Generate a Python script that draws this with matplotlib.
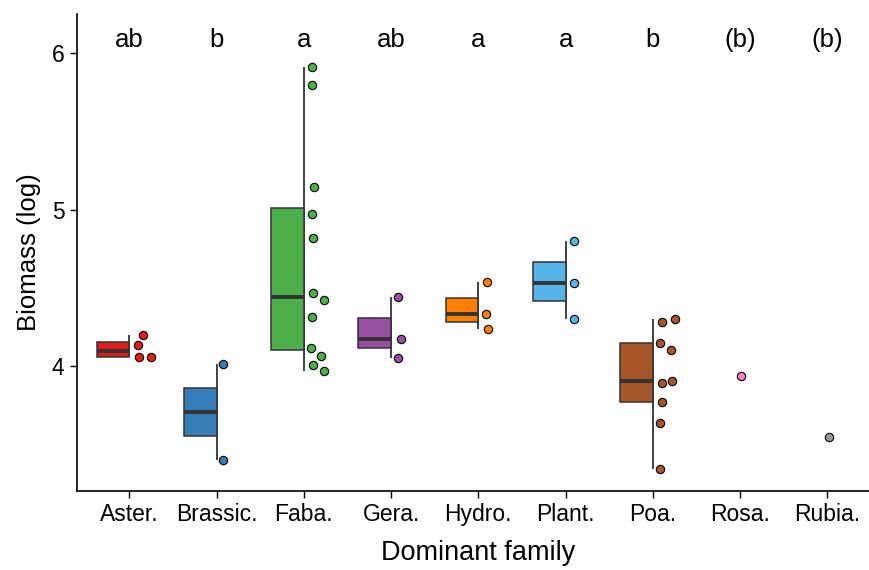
import matplotlib
matplotlib.use("Agg")
import matplotlib.pyplot as plt
import numpy as np

plt.rcParams['font.family'] = ['Liberation Sans', 'DejaVu Sans']

families = ['Aster.', 'Brassic.', 'Faba.', 'Gera.', 'Hydro.', 'Plant.', 'Poa.', 'Rosa.', 'Rubia.']
letters = ['ab', 'b', 'a', 'ab', 'a', 'a', 'b', '(b)', '(b)']
colors = ['#E41A1C', '#377EB8', '#4DAF4A', '#984EA3', '#FF7F00',
          '#56B4E9', '#A65628', '#F781BF', '#999999']

# biomass (log) per family
aster = [4.198, 4.133, 4.056, 4.056]
brassic = [4.011, 3.394]
faba = [5.910, 5.799, 5.142, 4.969, 4.816, 4.465, 4.421, 4.310, 4.113, 4.062, 4.006, 3.968]
gera = [4.442, 4.171, 4.051]
hydro = [4.538, 4.329, 4.235]
plant = [4.800, 4.531, 4.301]
poa = [4.278, 4.299, 4.143, 4.100, 3.889, 3.900, 3.766, 3.635, 3.337]
rosa = [3.936]
rubia = [3.542]
values = [aster, brassic, faba, gera, hydro, plant, poa, rosa, rubia]

# horizontal jitter of the points (category units, to the right of centre)
jitter = [
    [0.152, 0.103, 0.107, 0.244],
    [0.075, 0.075],
    [0.096, 0.096, 0.119, 0.092, 0.103, 0.103, 0.229, 0.088, 0.085, 0.191, 0.108, 0.226],
    [0.080, 0.115, 0.080],
    [0.100, 0.092, 0.107],
    [0.092, 0.092, 0.092],
    [0.103, 0.249, 0.080, 0.210, 0.107, 0.214, 0.100, 0.080, 0.077],
    [0.01],
    [0.015],
]

W, H = 869, 570
fig = plt.figure(figsize=(W / 100, H / 100), dpi=100)
unit = 87.25
ax = fig.add_axes([77 / W, (H - 490.7) / H, 9.2 * unit / W, (490.7 - 14) / H])

box_w = 0.375
edge = '#333333'
for i, (vals, col) in enumerate(zip(values, colors)):
    x = i + 1
    v = np.array(vals)
    if len(v) > 1:
        q1, med, q3 = np.percentile(v, [25, 50, 75])
        iqr = q3 - q1
        lo = v[v >= q1 - 1.5 * iqr].min()
        hi = v[v <= q3 + 1.5 * iqr].max()
        ax.vlines(x, lo, hi, color=edge, lw=1.3, zorder=2)
        ax.bar(x, q3 - q1, bottom=q1, width=-box_w, align='edge',
               color=col, edgecolor=edge, linewidth=1.1, zorder=3)
        ax.hlines(med, x - box_w, x, color=edge, lw=2.8, zorder=4)
    ax.scatter(x + np.array(jitter[i]), v, s=36, color=col,
               edgecolor='black', linewidth=0.8, zorder=5)
    ax.text(x, 6.085, letters[i], ha='center', va='center', fontsize=18.5)

ax.set_xlim(0.4, 9.6)
ax.set_ylim(3.2, 6.252)
ax.set_xticks(range(1, 10))
ax.set_xticklabels(families)
ax.set_yticks([4, 5, 6])
ax.tick_params(labelsize=16.5, length=5, width=1, color='black', labelcolor='black', pad=4)
ax.spines['top'].set_visible(False)
ax.spines['right'].set_visible(False)
for s in ['left', 'bottom']:
    ax.spines[s].set_linewidth(1.2)
ax.set_xlabel('Dominant family', fontsize=19.5, labelpad=10)
ax.set_ylabel('Biomass (log)', fontsize=18.5, labelpad=8)

fig.savefig('out.png', dpi=100)
